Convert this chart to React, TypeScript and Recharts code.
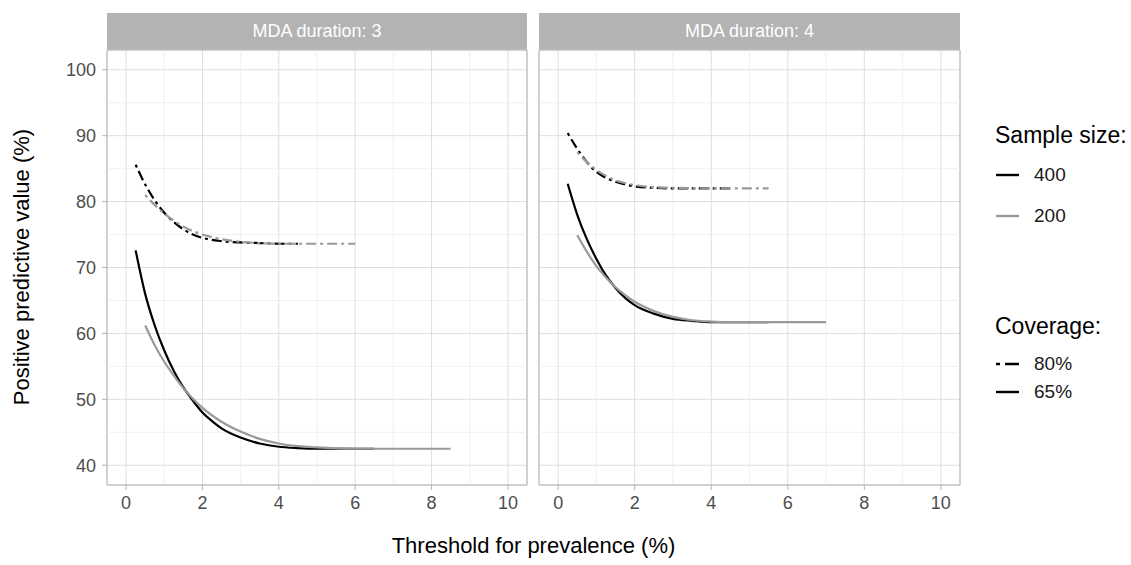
import React from 'react';
import { LineChart, Line, XAxis, YAxis, CartesianGrid, ReferenceLine, ReferenceArea } from 'recharts';

// Positive predictive value (%) against threshold for prevalence (%)
const mda3_cov80_n400 = [
  { x: 0.25, ppv: 85.6 }, { x: 0.5, ppv: 82.6 }, { x: 0.75, ppv: 80.2 }, { x: 1, ppv: 78.3 },
  { x: 1.25, ppv: 76.9 }, { x: 1.5, ppv: 75.8 }, { x: 1.75, ppv: 75.0 }, { x: 2, ppv: 74.5 },
  { x: 2.5, ppv: 74.0 }, { x: 3, ppv: 73.8 }, { x: 3.5, ppv: 73.7 }, { x: 4, ppv: 73.6 }, { x: 4.5, ppv: 73.6 },
];
const mda3_cov80_n200 = [
  { x: 0.5, ppv: 81.0 }, { x: 0.75, ppv: 79.5 }, { x: 1, ppv: 78.2 }, { x: 1.25, ppv: 77.1 },
  { x: 1.5, ppv: 76.2 }, { x: 2, ppv: 75.0 }, { x: 2.5, ppv: 74.3 }, { x: 3, ppv: 73.9 },
  { x: 3.5, ppv: 73.7 }, { x: 4, ppv: 73.6 }, { x: 5, ppv: 73.6 }, { x: 6, ppv: 73.6 },
];
const mda3_cov65_n400 = [
  { x: 0.25, ppv: 72.6 }, { x: 0.5, ppv: 66.0 }, { x: 0.75, ppv: 61.2 }, { x: 1, ppv: 57.4 },
  { x: 1.25, ppv: 54.3 }, { x: 1.5, ppv: 51.8 }, { x: 1.75, ppv: 49.8 }, { x: 2, ppv: 48.0 },
  { x: 2.25, ppv: 46.7 }, { x: 2.5, ppv: 45.6 }, { x: 3, ppv: 44.2 }, { x: 3.5, ppv: 43.3 },
  { x: 4, ppv: 42.8 }, { x: 4.5, ppv: 42.6 }, { x: 5, ppv: 42.5 }, { x: 5.5, ppv: 42.5 },
  { x: 6, ppv: 42.5 }, { x: 6.5, ppv: 42.5 },
];
const mda3_cov65_n200 = [
  { x: 0.5, ppv: 61.2 }, { x: 0.75, ppv: 58.2 }, { x: 1, ppv: 55.7 }, { x: 1.25, ppv: 53.6 },
  { x: 1.5, ppv: 51.7 }, { x: 1.75, ppv: 50.1 }, { x: 2, ppv: 48.7 }, { x: 2.5, ppv: 46.6 },
  { x: 3, ppv: 45.1 }, { x: 3.5, ppv: 44.0 }, { x: 4, ppv: 43.3 }, { x: 4.5, ppv: 42.9 },
  { x: 5, ppv: 42.7 }, { x: 6, ppv: 42.5 }, { x: 7, ppv: 42.5 }, { x: 8, ppv: 42.5 }, { x: 8.5, ppv: 42.5 },
];

const mda4_cov80_n400 = [
  { x: 0.25, ppv: 90.4 }, { x: 0.5, ppv: 88.0 }, { x: 0.75, ppv: 86.0 }, { x: 1, ppv: 84.5 },
  { x: 1.25, ppv: 83.6 }, { x: 1.5, ppv: 83.0 }, { x: 1.75, ppv: 82.6 }, { x: 2, ppv: 82.3 },
  { x: 2.5, ppv: 82.1 }, { x: 3, ppv: 82.0 }, { x: 3.5, ppv: 82.0 }, { x: 4, ppv: 82.0 }, { x: 4.5, ppv: 82.0 },
];
const mda4_cov80_n200 = [
  { x: 0.5, ppv: 87.5 }, { x: 0.75, ppv: 86.0 }, { x: 1, ppv: 84.8 }, { x: 1.25, ppv: 83.9 },
  { x: 1.5, ppv: 83.2 }, { x: 1.75, ppv: 82.8 }, { x: 2, ppv: 82.5 }, { x: 2.5, ppv: 82.2 },
  { x: 3, ppv: 82.1 }, { x: 4, ppv: 82.0 }, { x: 5, ppv: 82.0 }, { x: 5.5, ppv: 82.0 },
];
const mda4_cov65_n400 = [
  { x: 0.25, ppv: 82.7 }, { x: 0.5, ppv: 78.0 }, { x: 0.75, ppv: 74.3 }, { x: 1, ppv: 71.3 },
  { x: 1.25, ppv: 68.8 }, { x: 1.5, ppv: 66.9 }, { x: 1.75, ppv: 65.4 }, { x: 2, ppv: 64.3 },
  { x: 2.5, ppv: 63.0 }, { x: 3, ppv: 62.2 }, { x: 3.5, ppv: 61.9 }, { x: 4, ppv: 61.7 },
  { x: 4.5, ppv: 61.7 }, { x: 5, ppv: 61.7 }, { x: 5.5, ppv: 61.7 },
];
const mda4_cov65_n200 = [
  { x: 0.5, ppv: 74.9 }, { x: 0.75, ppv: 72.4 }, { x: 1, ppv: 70.2 }, { x: 1.25, ppv: 68.5 },
  { x: 1.5, ppv: 67.0 }, { x: 1.75, ppv: 65.8 }, { x: 2, ppv: 64.8 }, { x: 2.5, ppv: 63.4 },
  { x: 3, ppv: 62.5 }, { x: 3.5, ppv: 62.0 }, { x: 4, ppv: 61.8 }, { x: 4.5, ppv: 61.7 },
  { x: 5, ppv: 61.7 }, { x: 6, ppv: 61.7 }, { x: 7, ppv: 61.7 },
];

const xTicks = [0, 2, 4, 6, 8, 10];
const xMinor = [1, 3, 5, 7, 9];
const yTicks = [40, 50, 60, 70, 80, 90, 100];
const yMinor = [45, 55, 65, 75, 85, 95];

const FONT = '"Liberation Sans", Arial, Helvetica, sans-serif';
const BLACK = '#000000';
const GREY = '#999999';
const DOTDASH = '3 4 10 4';

interface Series {
  key: string;
  data: { x: number; ppv: number }[];
  color: string;
  dash?: string;
}

const panel3: Series[] = [
  { key: 'c65n400', data: mda3_cov65_n400, color: BLACK },
  { key: 'c65n200', data: mda3_cov65_n200, color: GREY },
  { key: 'c80n400', data: mda3_cov80_n400, color: BLACK, dash: DOTDASH },
  { key: 'c80n200', data: mda3_cov80_n200, color: GREY, dash: DOTDASH },
];
const panel4: Series[] = [
  { key: 'c65n400', data: mda4_cov65_n400, color: BLACK },
  { key: 'c65n200', data: mda4_cov65_n200, color: GREY },
  { key: 'c80n400', data: mda4_cov80_n400, color: BLACK, dash: DOTDASH },
  { key: 'c80n200', data: mda4_cov80_n200, color: GREY, dash: DOTDASH },
];

const tickStyle = { fill: '#4d4d4d', fontSize: 18, fontFamily: FONT };

const Panel = ({ series, showY, width, left, title }: { series: Series[]; showY: boolean; width: number; left: number; title: string }) => {
  const yAxisWidth = showY ? 107 : 0;
  const marginLeft = showY ? 0 : 2;
  const plotLeft = left + marginLeft + yAxisWidth;
  const plotWidth = width - marginLeft - 2 - yAxisWidth;
  return (
    <>
      <div
        style={{
          position: 'absolute', left: plotLeft, top: 13, width: plotWidth, height: 37,
          background: '#b3b3b3', color: '#ffffff', fontFamily: FONT, fontSize: 18,
          display: 'flex', alignItems: 'center', justifyContent: 'center',
        }}
      >
        {title}
      </div>
      <div style={{ position: 'absolute', left, top: 0 }}>
        <LineChart width={width} height={565} margin={{ top: 50, right: 2, bottom: 50, left: marginLeft }}>
          <CartesianGrid stroke="#dedede" strokeWidth={1} />
          {xMinor.map((v) => (
            <ReferenceLine key={`vx${v}`} x={v} stroke="#ececec" strokeWidth={0.8} />
          ))}
          {yMinor.map((v) => (
            <ReferenceLine key={`hy${v}`} y={v} stroke="#ececec" strokeWidth={0.8} />
          ))}
          <XAxis
            type="number"
            dataKey="x"
            domain={[-0.5, 10.5]}
            allowDataOverflow
            ticks={xTicks}
            height={30}
            axisLine={false}
            tickLine={{ stroke: '#b3b3b3' }}
            tickSize={5}
            tickMargin={6}
            tick={tickStyle}
          />
          <YAxis
            type="number"
            domain={[37, 103]}
            allowDataOverflow
            ticks={yTicks}
            width={yAxisWidth}
            hide={!showY}
            axisLine={false}
            tickLine={{ stroke: '#b3b3b3' }}
            tickSize={5}
            tickMargin={6}
            tick={tickStyle}
          />
          {series.map((s) => (
            <Line
              key={s.key}
              data={s.data}
              dataKey="ppv"
              type="monotone"
              stroke={s.color}
              strokeWidth={2.2}
              strokeDasharray={s.dash}
              dot={false}
              activeDot={false}
              isAnimationActive={false}
            />
          ))}
          <ReferenceArea x1={-0.5} x2={10.5} y1={37} y2={103} fill="none" fillOpacity={0} stroke="#b3b3b3" strokeWidth={1} />
        </LineChart>
      </div>
    </>
  );
};

const LegendKey = ({ color, dash }: { color: string; dash?: string }) => (
  <svg width={26} height={10} style={{ display: 'block' }}>
    <line x1={1} y1={5} x2={24} y2={5} stroke={color} strokeWidth={2.4} strokeDasharray={dash} />
  </svg>
);

const legendRow = (top: number, label: string, color: string, dash?: string) => (
  <div style={{ position: 'absolute', left: 995, top: top - 12, height: 24, display: 'flex', alignItems: 'center' }}>
    <LegendKey color={color} dash={dash} />
    <span style={{ marginLeft: 13, fontSize: 19, fontFamily: FONT, color: '#1a1a1a' }}>{label}</span>
  </div>
);

export default function App() {
  return (
    <div style={{ position: 'absolute', left: 0, top: 0, width: 1131, height: 565, background: '#ffffff', overflow: 'hidden' }}>
      <Panel series={panel3} showY width={529} left={0} title="MDA duration: 3" />
      <Panel series={panel4} showY={false} width={425} left={537} title="MDA duration: 4" />

      <div
        style={{
          position: 'absolute', left: 107, width: 853, top: 533, textAlign: 'center',
          fontFamily: FONT, fontSize: 22, color: '#000000',
        }}
      >
        Threshold for prevalence (%)
      </div>
      <div
        style={{
          position: 'absolute', left: 22 - 200, top: 267 - 14, width: 400, height: 28, lineHeight: '28px',
          textAlign: 'center', transform: 'rotate(-90deg)', fontFamily: FONT, fontSize: 22, color: '#000000',
        }}
      >
        Positive predictive value (%)
      </div>

      <div style={{ position: 'absolute', left: 995, top: 122, fontFamily: FONT, fontSize: 23, color: '#000000' }}>
        Sample size:
      </div>
      {legendRow(175, '400', BLACK)}
      {legendRow(216, '200', GREY)}
      <div style={{ position: 'absolute', left: 995, top: 313, fontFamily: FONT, fontSize: 23, color: '#000000' }}>
        Coverage:
      </div>
      {legendRow(364, '80%', BLACK, '4 5 14 5')}
      {legendRow(392, '65%', BLACK)}
    </div>
  );
}
